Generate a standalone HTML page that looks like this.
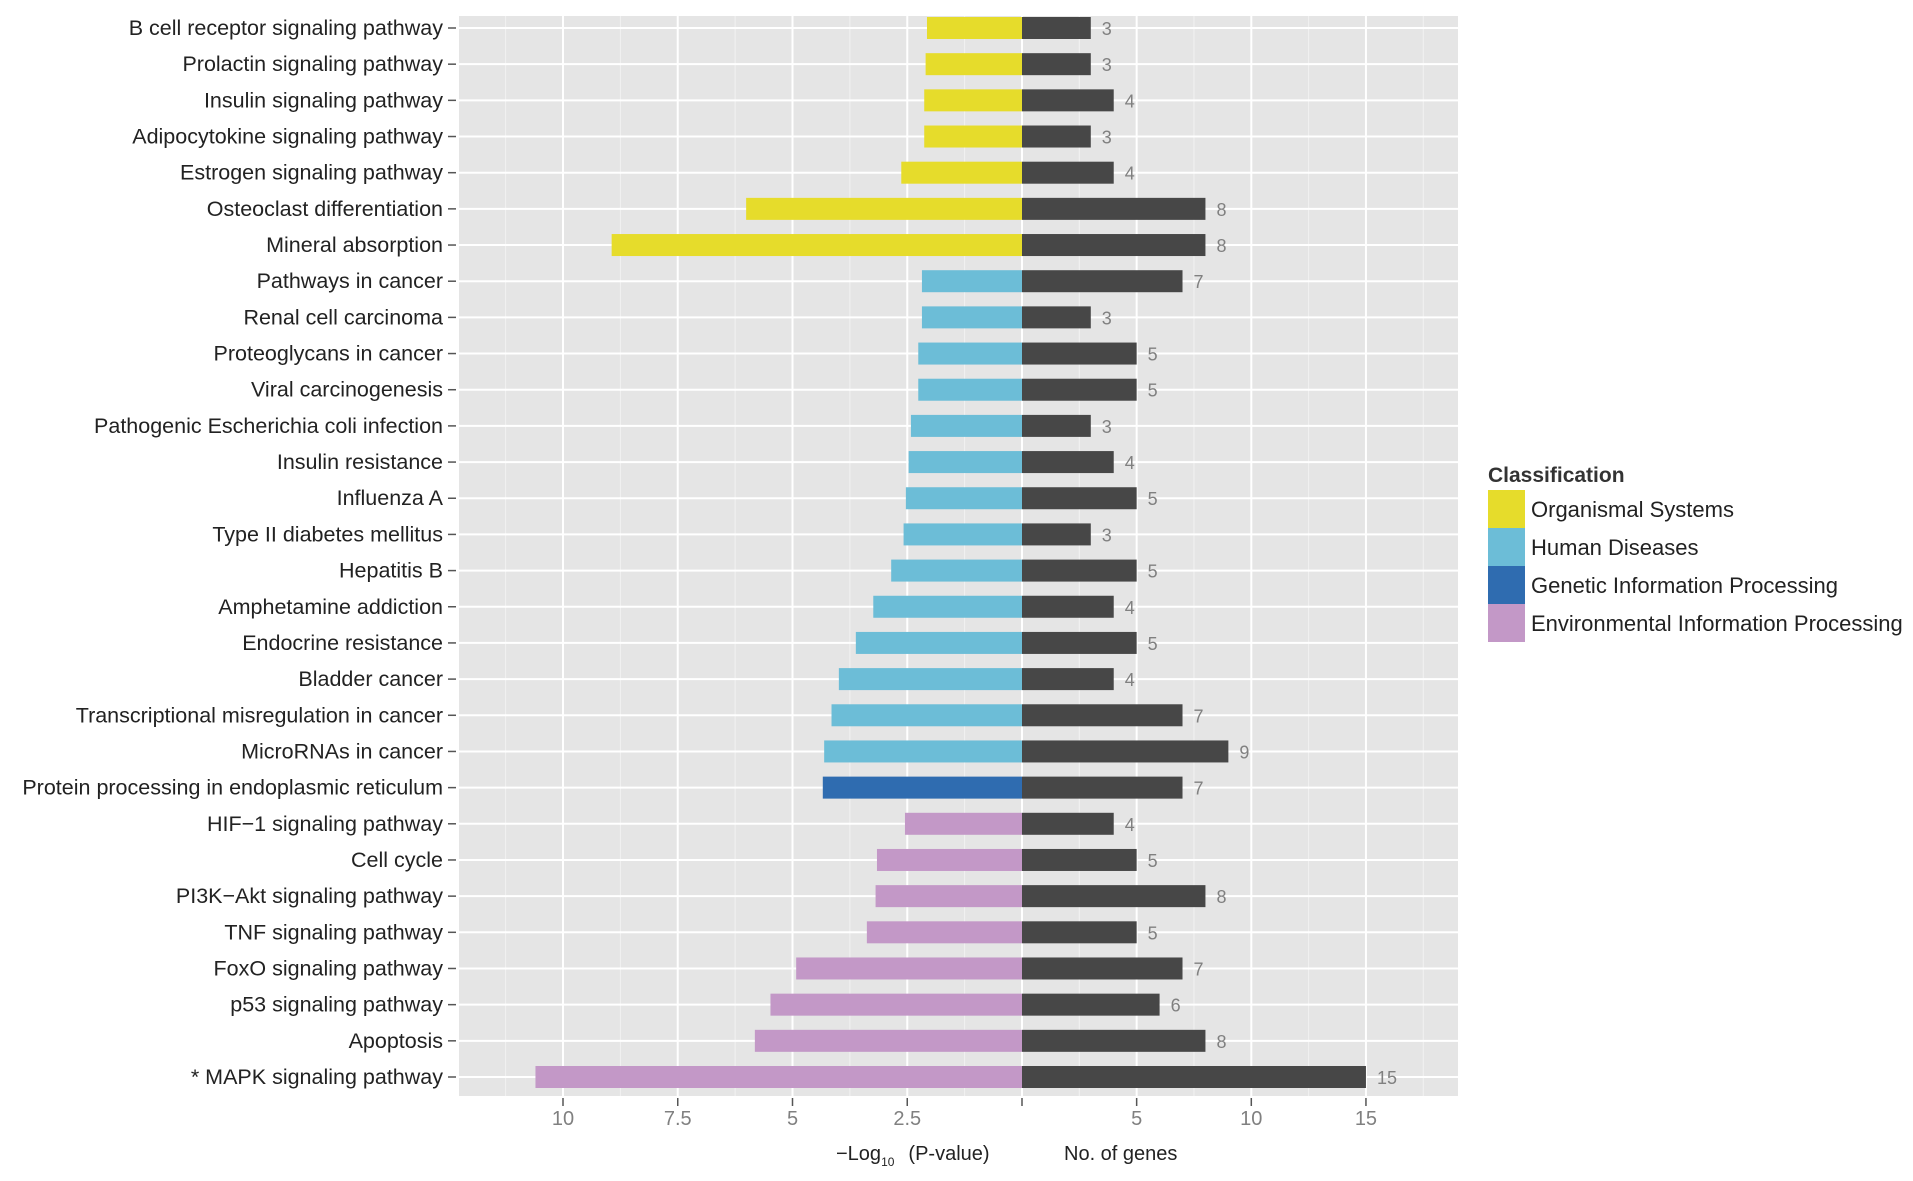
<!DOCTYPE html>
<html><head><meta charset="utf-8"><style>
html,body{margin:0;padding:0;background:#fff;}
svg{display:block;font-family:"Liberation Sans",sans-serif;}
</style></head><body>
<svg id="chart" width="1913" height="1181"></svg>
<script>
const pathways=["B cell receptor signaling pathway","Prolactin signaling pathway","Insulin signaling pathway","Adipocytokine signaling pathway","Estrogen signaling pathway","Osteoclast differentiation","Mineral absorption","Pathways in cancer","Renal cell carcinoma","Proteoglycans in cancer","Viral carcinogenesis","Pathogenic Escherichia coli infection","Insulin resistance","Influenza A","Type II diabetes mellitus","Hepatitis B","Amphetamine addiction","Endocrine resistance","Bladder cancer","Transcriptional misregulation in cancer","MicroRNAs in cancer","Protein processing in endoplasmic reticulum","HIF\u22121 signaling pathway","Cell cycle","PI3K\u2212Akt signaling pathway","TNF signaling pathway","FoxO signaling pathway","p53 signaling pathway","Apoptosis","* MAPK signaling pathway"];
const logP=[2.07,2.1,2.13,2.13,2.63,6.01,8.94,2.18,2.18,2.26,2.26,2.42,2.47,2.53,2.58,2.85,3.24,3.62,3.99,4.15,4.31,4.34,2.55,3.16,3.19,3.38,4.92,5.48,5.82,10.6];
const genes=[3,3,4,3,4,8,8,7,3,5,5,3,4,5,3,5,4,5,4,7,9,7,4,5,8,5,7,6,8,15];
const classes=["O","O","O","O","O","O","O","H","H","H","H","H","H","H","H","H","H","H","H","H","H","G","E","E","E","E","E","E","E","E"];
const pTicks=[10,7.5,5,2.5];
const gTicks=[5,10,15];
const classNames=["Organismal Systems","Human Diseases","Genetic Information Processing","Environmental Information Processing"];
const classKeys=["O","H","G","E"];
const colors={O:"#e6dc2b",H:"#6cbdd7",G:"#2f6cb0",E:"#c398c7"};

const svg=document.getElementById('chart');
const NS="http://www.w3.org/2000/svg";
function mk(tag,attrs,parent){const e=document.createElementNS(NS,tag);for(const k in attrs)e.setAttribute(k,attrs[k]);(parent||svg).appendChild(e);return e;}
const PL=459,PR=1458,PT=16,PB=1096,X0=1022;
const pScale=45.9, gScale=22.93;
const xP=v=>X0-v*pScale;
const xG=v=>X0+v*gScale;
const yFirst=28,yLast=1077;
const yRow=i=>yFirst+(yLast-yFirst)*i/(pathways.length-1);
const barH=22;

const panel=mk('rect',{x:PL,y:PT,width:PR-PL,height:PB-PT,fill:'#e5e5e5'});


[11.25,8.75,6.25,3.75,1.25].forEach(v=>{const l=mk('line',{x1:xP(v),x2:xP(v),y1:PT,y2:PB,stroke:'#f2f2f2','stroke-width':1});});
[2.5,7.5,12.5,17.5].forEach(v=>{const l=mk('line',{x1:xG(v),x2:xG(v),y1:PT,y2:PB,stroke:'#f2f2f2','stroke-width':1});});
pTicks.concat([0]).forEach(v=>{const l=mk('line',{x1:xP(v),x2:xP(v),y1:PT,y2:PB,stroke:'#fff','stroke-width':2});});
gTicks.forEach(v=>{const l=mk('line',{x1:xG(v),x2:xG(v),y1:PT,y2:PB,stroke:'#fff','stroke-width':2});});
pathways.forEach((p,i)=>{const l=mk('line',{x1:PL,x2:PR,y1:yRow(i),y2:yRow(i),stroke:'#fff','stroke-width':2});});

pathways.forEach((p,i)=>{
  const y=yRow(i);
  const b1=mk('rect',{x:xP(logP[i]),y:y-barH/2,width:X0-xP(logP[i]),height:barH,fill:colors[classes[i]]});
  
  
  const b2=mk('rect',{x:X0,y:y-barH/2,width:xG(genes[i])-X0,height:barH,fill:'#474747'});
  
  
  const t=mk('text',{x:xG(genes[i])+11,y:y+7,'font-size':18,fill:'#808080'});t.textContent=genes[i];
  
  
  const lb=mk('text',{x:443,y:y+7,'font-size':21.5,fill:'#222','text-anchor':'end'});lb.textContent=p;
  
  
  const tk=mk('line',{x1:448,x2:456,y1:y,y2:y,stroke:'#555','stroke-width':1.5});
  
  
});
function xtick(x,label){
  const l=mk('line',{x1:x,x2:x,y1:PB+2,y2:PB+10,stroke:'#555','stroke-width':1.5});
  
  
  if(label!==null){const t=mk('text',{x:x,y:PB+29,'font-size':20,fill:'#808080','text-anchor':'middle'});t.textContent=label;
  
  }
}
pTicks.forEach(v=>xtick(xP(v),String(v)));
xtick(X0,null);
gTicks.forEach(v=>xtick(xG(v),String(v)));

const ta=mk('text',{x:836,y:1160,'font-size':20,fill:'#222'});
ta.innerHTML='\u2212Log<tspan font-size="12" dy="6">10</tspan><tspan dy="-6" dx="14">(P-value)</tspan>';


const tb=mk('text',{x:1064,y:1160,'font-size':20,fill:'#222'});tb.textContent='No. of genes';



const lt=mk('text',{x:1488,y:482,'font-size':21,'font-weight':'bold',fill:'#333'});lt.textContent='Classification';


classKeys.forEach((k,j)=>{
  const y=490+j*38;
  const r=mk('rect',{x:1488,y:y,width:37,height:38,fill:colors[k]});
  
  
  const t=mk('text',{x:1531,y:y+27,'font-size':22,fill:'#222'});t.textContent=classNames[j];
  
  
});
</script>
</body></html>
